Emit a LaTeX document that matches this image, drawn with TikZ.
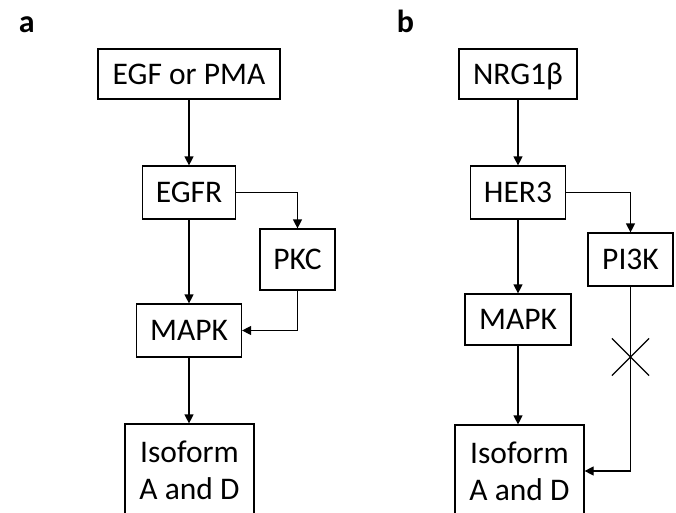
\documentclass[tikz,border=0pt]{standalone}
\usepackage{fontspec}
\setmainfont{Carlito}
\usepackage{tikz}
\usetikzlibrary{positioning,arrows.meta,shapes.misc}

\begin{document}
\begin{tikzpicture}[x=1pt, y=-1pt, >={Triangle[length=9pt,width=9pt]}, line width=1.2pt,
box/.style={draw, text centered, inner sep=0pt, text depth=0pt, font=\fontsize{31.5}{37}\selectfont},
isobox/.style={draw, align=center, inner sep=0pt, minimum width=129pt, minimum height=92pt, font=\fontsize{31.5}{37}\selectfont},
lbl/.style={anchor=base west, font=\fontsize{32}{37}\selectfont\bfseries}
]
\clip (0,0) rectangle (676,513);

% panel a
\node (labA) [lbl] at (15,33) {a};
\node (egf) [box, minimum width=182pt, minimum height=50pt] at (189,74) {EGF or PMA};
\node (egfr) [box, minimum width=93pt, minimum height=53pt] at (189,192.5) {EGFR};
\node (pkc) [box, minimum width=75pt, minimum height=61pt] at (297.5,259.5) {PKC};
\node (mapkA) [box, minimum width=105pt, minimum height=53pt] at (189,330.5) {MAPK};
\node (isoA) [isobox] at (189.5,470) {Isoform\\A and D};

\draw[->] (egf) -- (egfr);
\draw[->] (egfr) -- (mapkA);
\draw[->] (egfr.east) -| (pkc.north);
\draw[->] (pkc.south) |- (mapkA.east);
\draw[->] (mapkA) -- (mapkA |- isoA.north);

% panel b
\node (labB) [lbl] at (393,33) {b};
\node (nrg) [box, minimum width=118pt, minimum height=50pt] at (518,74) {NRG1β};
\node (her3) [box, minimum width=95pt, minimum height=53pt] at (518,192.5) {HER3};
\node (pik) [box, minimum width=85pt, minimum height=53pt] at (630.5,259.5) {PI3K};
\node (mapkB) [box, minimum width=106pt, minimum height=51pt] at (518,319.5) {MAPK};
\node (isoB) [isobox] at (519.5,471) {Isoform\\A and D};
\node (block) [cross out, draw, minimum size=36pt, inner sep=0pt] at (630.5,357) {};

\draw[->] (nrg) -- (her3);
\draw[->] (her3) -- (mapkB);
\draw[->] (her3.east) -| (pik.north);
\draw[->] (mapkB) -- (mapkB |- isoB.north);
\draw[->] (pik.south) |- (isoB.east);

\end{tikzpicture}
\end{document}
